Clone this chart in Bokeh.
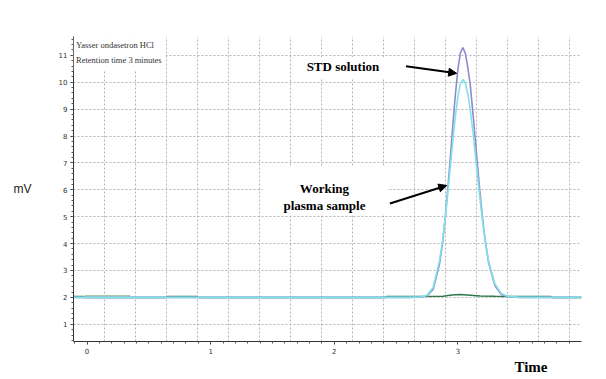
import numpy as np
from bokeh.plotting import figure
from bokeh.models import Range1d, FixedTicker, Label, Arrow, NormalHead, BoxAnnotation, Title
from bokeh.embed import file_html
from bokeh.resources import INLINE

# ---- data ----
x_tick_values = [0, 1, 2, 3]
y_tick_values = [1, 2, 3, 4, 5, 6, 7, 8, 9, 10, 11]

peak_time = [-0.11, 2.60, 2.70, 2.75, 2.80, 2.85, 2.875, 2.90, 2.925, 2.95, 2.975, 3.00, 3.02,
             3.04, 3.06, 3.08, 3.10, 3.125, 3.15, 3.175, 3.20, 3.225, 3.25, 3.30, 3.35, 3.40,
             3.50, 4.00]
std_mv = [2.00, 2.00, 2.01, 2.05, 2.30, 3.21, 3.99, 5.07, 6.40, 7.87, 9.31, 10.48, 11.08,
          11.29, 11.08, 10.55, 9.90, 8.69, 7.37, 6.07, 4.91, 3.97, 3.26, 2.43, 2.12, 2.03,
          2.00, 2.00]
work_mv = [2.00, 2.00, 2.02, 2.08, 2.38, 3.33, 4.08, 5.04, 6.18, 7.40, 8.56, 9.48, 9.94,
           10.10, 9.97, 9.58, 8.98, 8.01, 6.91, 5.82, 4.81, 3.97, 3.31, 2.50, 2.15, 2.04,
           2.00, 2.00]

blank_time = [-0.11, -0.03, -0.02, 0.64, 0.65, 0.89, 0.90, 2.41, 2.42, 2.88, 2.95, 3.02,
              3.10, 3.18, 3.30, 3.75, 3.76, 4.00]
blank_mv = [2.03, 2.03, 2.00, 2.00, 2.03, 2.03, 2.00, 2.00, 2.03, 2.04, 2.09, 2.11,
            2.08, 2.05, 2.04, 2.03, 2.00, 2.00]

drift_time = [-0.02, 0.35]
drift_mv = [2.06, 2.06]

title_lines = ["Yasser ondasetron HCl", "Retention time 3 minutes"]

# ---- figure ----
p = figure(width=598, height=375, x_range=Range1d(-0.11, 4.0), y_range=Range1d(0.36, 11.7),
           output_backend="svg", toolbar_location=None,
           min_border_left=73, min_border_right=17, min_border_top=36, min_border_bottom=34)
p.outline_line_color = None
p.background_fill_color = "white"

grid_x = list(np.arange(-0.11 + 0.251, 4.0, 0.251))
p.xaxis.ticker = FixedTicker(ticks=x_tick_values, minor_ticks=list(np.arange(-0.1, 4.0, 0.1)))
p.yaxis.ticker = FixedTicker(ticks=y_tick_values, minor_ticks=list(np.arange(0.4, 11.7, 0.2)))
p.xgrid.ticker = FixedTicker(ticks=grid_x)
p.ygrid.ticker = FixedTicker(ticks=y_tick_values)
for g in (p.xgrid, p.ygrid):
    g.grid_line_color = "#b4b4b4"
    g.grid_line_dash = "2 2"
    g.grid_line_width = 1

for ax in (p.xaxis, p.yaxis):
    ax.axis_line_color = "#333333"
    ax.major_tick_line_color = "#333333"
    ax.minor_tick_line_color = "#555555"
    ax.major_tick_in = 0
    ax.major_tick_out = 3
    ax.minor_tick_in = 0
    ax.minor_tick_out = 2
    ax.major_label_text_font = "DejaVu Sans"
    ax.major_label_text_font_size = "7px"
    ax.major_label_text_color = "#333333"
    ax.major_label_standoff = 3

# y axis title, horizontal
yax = p.yaxis[0]
yax.axis_label = "mV"
yax.axis_label_orientation = "horizontal"
yax.axis_label_text_font = "Liberation Sans"
yax.axis_label_text_font_style = "normal"
yax.axis_label_text_font_size = "12px"
yax.axis_label_text_color = "#222222"
yax.axis_label_standoff = 24

# x axis title at the right
p.add_layout(Title(text="Time", align="right", offset=34, text_font="Liberation Serif",
                   text_font_style="bold", text_font_size="15px", text_color="black",
                   standoff=0), "below")

# traces
p.line(blank_time, blank_mv, line_color="#2e7a4c", line_width=1.5)
p.line(drift_time, drift_mv, line_color="#a9c9a6", line_width=1.5)
p.line(peak_time, std_mv, line_color="#8c8ccc", line_width=1.6)
p.line(peak_time, work_mv, line_color="#80e2e8", line_width=1.6)

# white boxes behind texts
p.add_layout(BoxAnnotation(left=-0.11, right=0.634, bottom=10.44, top=11.7,
                           fill_color="white", fill_alpha=1, line_color=None))
p.add_layout(BoxAnnotation(left=1.70, right=2.47, bottom=10.14, top=10.94,
                           fill_color="white", fill_alpha=1, line_color=None))
p.add_layout(BoxAnnotation(left=1.42, right=2.43, bottom=5.05, top=6.85,
                           fill_color="white", fill_alpha=1, line_color=None))

# title text
p.add_layout(Label(x=-0.09, y=11.37, text=title_lines[0], text_font="Liberation Serif",
                   text_font_size="8.5px", text_color="#333333",
                   text_align="left", text_baseline="middle"))
p.add_layout(Label(x=-0.09, y=10.81, text=title_lines[1], text_font="Liberation Serif",
                   text_font_size="8.5px", text_color="#333333",
                   text_align="left", text_baseline="middle"))

# annotations
p.add_layout(Label(x=2.07, y=10.59, text="STD solution", text_font="Liberation Serif",
                   text_font_style="bold", text_font_size="13px", text_color="black",
                   text_align="center", text_baseline="middle"))
p.add_layout(Label(x=1.92, y=6.05, text="Working", text_font="Liberation Serif",
                   text_font_style="bold", text_font_size="13px", text_color="black",
                   text_align="center", text_baseline="middle"))
p.add_layout(Label(x=1.92, y=5.42, text="plasma sample", text_font="Liberation Serif",
                   text_font_style="bold", text_font_size="13px", text_color="black",
                   text_align="center", text_baseline="middle"))

p.add_layout(Arrow(end=NormalHead(size=8, fill_color="black", line_color="black"),
                   x_start=2.58, y_start=10.59, x_end=2.99, y_end=10.33,
                   line_color="black", line_width=2))
p.add_layout(Arrow(end=NormalHead(size=8, fill_color="black", line_color="black"),
                   x_start=2.45, y_start=5.49, x_end=2.91, y_end=6.16,
                   line_color="black", line_width=2))

open("out.html", "w").write(file_html(p, INLINE))
